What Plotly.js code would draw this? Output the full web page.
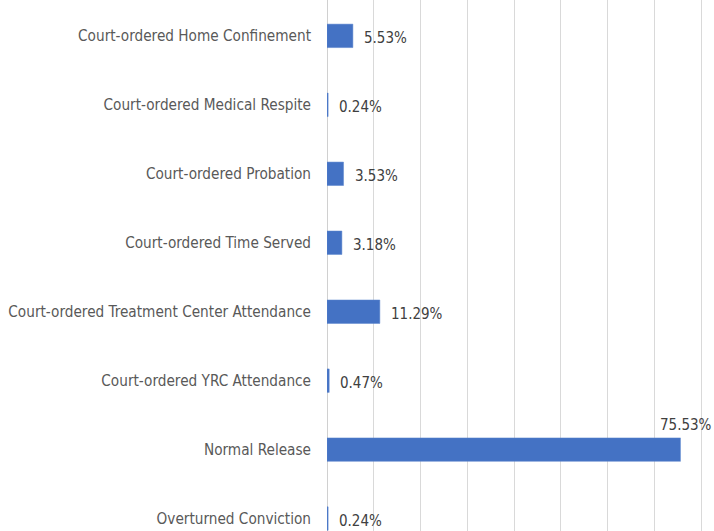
<!DOCTYPE html>
<html>
<head>
<meta charset="utf-8">
<script src="https://cdn.plot.ly/plotly-3.0.1.min.js"></script>
<style>html,body{margin:0;padding:0;background:#fff;}#chart{width:714px;height:531px;}</style>
</head>
<body>
<div id="chart"></div>
<script>
var categories = [
  "Court-ordered Home Confinement",
  "Court-ordered Medical Respite",
  "Court-ordered Probation",
  "Court-ordered Time Served",
  "Court-ordered Treatment Center Attendance",
  "Court-ordered YRC Attendance",
  "Normal Release",
  "Overturned Conviction"
];
var values = [5.53, 0.24, 3.53, 3.18, 11.29, 0.47, 75.53, 0.24];
var valueLabels = ["5.53%", "0.24%", "3.53%", "3.18%", "11.29%", "0.47%", "75.53%", "0.24%"];

var FONT = '"DejaVu Sans Condensed", "Liberation Sans Narrow", sans-serif';

var trace = {
  type: 'bar',
  orientation: 'h',
  x: values,
  y: categories,
  width: 0.34,
  marker: {color: '#4472C4', line: {color: '#5B84CC', width: 0.5}},
  hoverinfo: 'none'
};

var maxVal = Math.max.apply(null, values);
var annotations = values.map(function (v, i) {
  var isMax = v === maxVal;
  return {
    x: v, y: categories[i], xref: 'x', yref: 'y',
    text: valueLabels[i], showarrow: false,
    xanchor: isMax ? 'center' : 'left',
    xshift: isMax ? 6 : 9,
    yshift: isMax ? 25 : -2,
    font: {family: FONT, size: 15, color: '#404040'}
  };
});

var layout = {
  width: 714, height: 531,
  margin: {l: 327, r: 0, t: 0, b: 0, pad: 0},
  paper_bgcolor: '#ffffff', plot_bgcolor: '#ffffff',
  showlegend: false,
  xaxis: {
    range: [0, 82.7], dtick: 10, tick0: 0,
    showgrid: true, gridcolor: '#d9d9d9', gridwidth: 1,
    zeroline: true, zerolinecolor: '#d0d0d0', zerolinewidth: 1,
    showticklabels: false, ticks: '', fixedrange: true
  },
  yaxis: {
    type: 'category', categoryorder: 'array', categoryarray: categories,
    range: [7.18, -0.52],
    showgrid: false, zeroline: false, ticks: '',
    ticklabelstandoff: 15,
    tickfont: {family: FONT, size: 15.2, color: '#595959'},
    fixedrange: true
  },
  annotations: annotations
};

Plotly.newPlot('chart', [trace], layout, {displayModeBar: false, staticPlot: true});
</script>
</body>
</html>
